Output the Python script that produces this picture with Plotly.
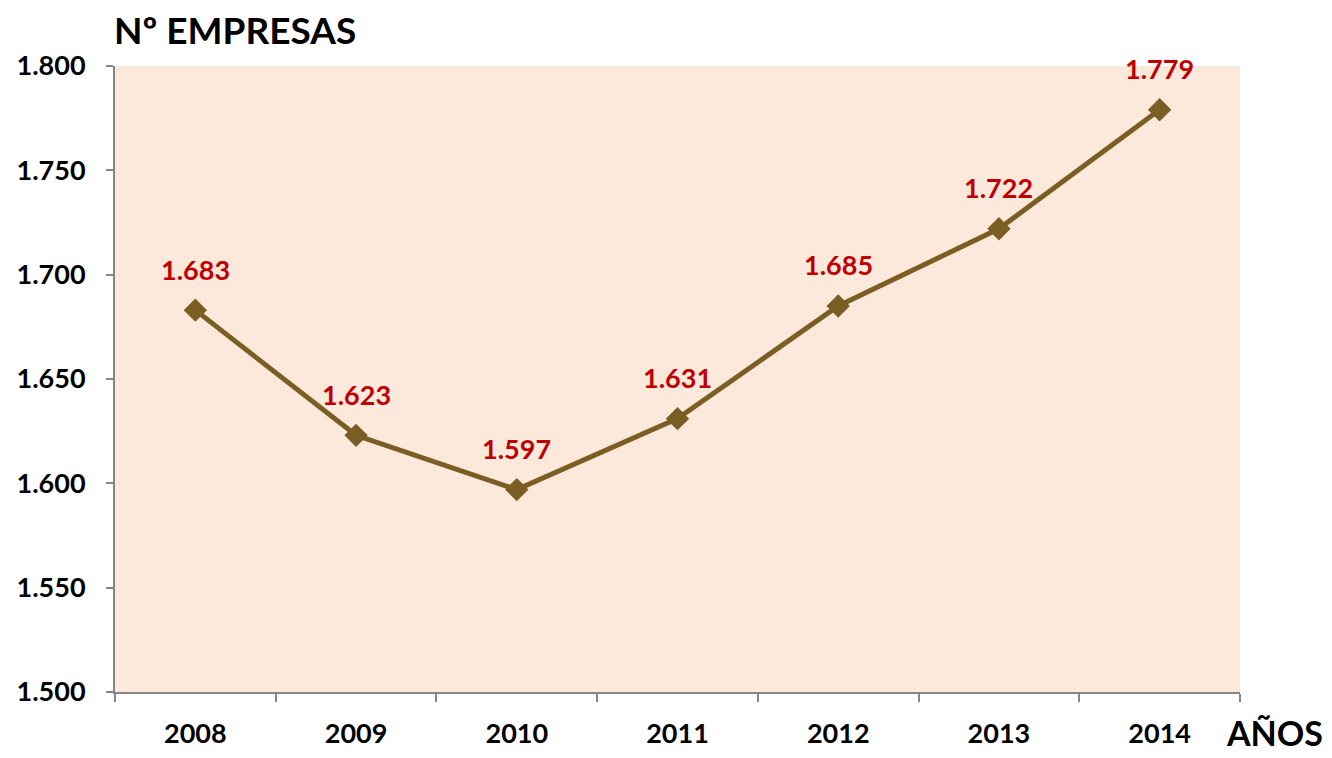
import plotly.graph_objects as go

years = ["2008", "2009", "2010", "2011", "2012", "2013", "2014"]
empresas = [1683, 1623, 1597, 1631, 1685, 1722, 1779]
y_ticks = [1500, 1550, 1600, 1650, 1700, 1750, 1800]
y_title = "Nº EMPRESAS"
x_title = "AÑOS"

FONT = "Lato, Carlito, Calibri, sans-serif"
LINE_COLOR = "#7B5E23"
LABEL_COLOR = "#C00000"
AXIS_COLOR = "#868686"

fig = go.Figure()
fig.add_trace(go.Scatter(
    x=years, y=empresas, mode="lines+markers",
    line=dict(color=LINE_COLOR, width=5),
    marker=dict(symbol="diamond", size=18, color=LINE_COLOR),
    hoverinfo="skip", showlegend=False,
))

annotations = []
for i, v in enumerate(empresas):
    annotations.append(dict(
        x=i, y=v, xref="x", yref="y",
        text=f"<b>{v:,}</b>".replace(",", "."),
        showarrow=False, yshift=41,
        xanchor="center", yanchor="middle",
        font=dict(family=FONT, size=27, color=LABEL_COLOR),
    ))
annotations.append(dict(
    x=(1274 - 115) / 1125, y=(692 - 733) / 626, xref="paper", yref="paper",
    text=f"<b>{x_title}</b>", showarrow=False,
    xanchor="center", yanchor="middle",
    font=dict(family=FONT, size=34, color="black"),
))
annotations.append(dict(
    x=(112 - 115) / 1125, y=(692 - 30) / 626, xref="paper", yref="paper",
    text=f"<b>{y_title}</b>", showarrow=False,
    xanchor="left", yanchor="middle",
    font=dict(family=FONT, size=37, color="black"),
))

# the page body adds an 8px margin on every side, so the figure is 16px smaller
fig.update_layout(
    width=1316, height=742,
    margin=dict(l=107, r=84, t=58, b=58, autoexpand=False),
    paper_bgcolor="white",
    plot_bgcolor="#FCE9DB",
    separators=",.",
    annotations=annotations,
    font=dict(family=FONT, color="black"),
)
fig.update_xaxes(
    type="category", categoryorder="array", categoryarray=years,
    range=[-0.5, len(years) - 0.5], autorange=False,
    tickson="boundaries", tickangle=0, automargin=False,
    ticks="outside", ticklen=8, tickcolor=AXIS_COLOR, tickwidth=2,
    showline=True, linecolor=AXIS_COLOR, linewidth=2,
    showgrid=False, zeroline=False,
    tickfont=dict(family=FONT, size=27, color="black", weight="bold"),
    ticklabelstandoff=17,
)
fig.update_yaxes(
    range=[1500, 1800], autorange=False, tickvals=y_ticks, tickformat=",d",
    automargin=False,
    ticks="outside", ticklen=7, tickcolor=AXIS_COLOR, tickwidth=2,
    showline=True, linecolor=AXIS_COLOR, linewidth=2,
    showgrid=False, zeroline=False,
    tickfont=dict(family=FONT, size=27, color="black", weight="bold"),
    ticklabelstandoff=15,
)

fig.write_html("out.html")
